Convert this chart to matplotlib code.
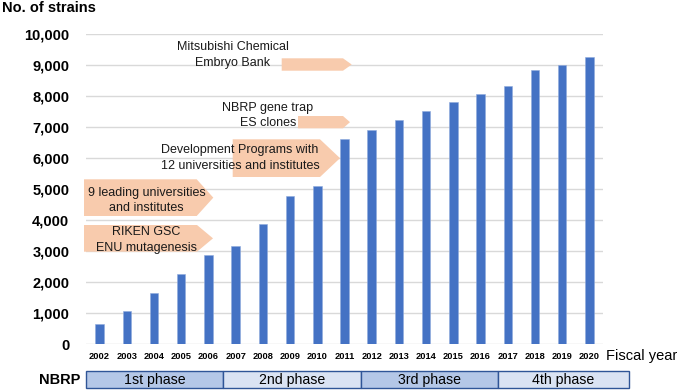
import matplotlib
matplotlib.use("Agg")
import matplotlib.pyplot as plt
from matplotlib.patches import Polygon, Rectangle
from matplotlib.ticker import FuncFormatter

# =========================
# DATA
# =========================
years = [str(y) for y in range(2002, 2021)]
strains = [650, 1050, 1660, 2270, 2880, 3160, 3880, 4770, 5090,
           6610, 6900, 7230, 7530, 7810, 8070, 8330, 8840, 9010, 9270]

phases = ["1st phase", "2nd phase", "3rd phase", "4th phase"]
phase_edges_px = [86, 222.7, 361, 498, 629]
phase_colors = ["#b4c7e7", "#dae3f3", "#b4c7e7", "#dae3f3"]

# arrow boxes: (x0, tip start, tip end, top, bottom) in pixels, and their text lines
arrows = [
    ((281.7, 343, 351.7, 58.3, 70.7), [("Mitsubishi Chemical", 232.5, 47.5), ("Embryo Bank", 232.5, 63.3)]),
    ((298, 343, 350, 116, 128.3), [("NBRP gene trap", 268, 107.7), ("ES clones", 268, 122.7)]),
    ((232.7, 320, 340, 139.3, 177), [("Development Programs with", 239.7, 150), ("12 universities and institutes", 240, 166)]),
    ((84, 196.7, 213.3, 179.3, 216), [("9 leading universities", 146.7, 192.7), ("and institutes", 146.7, 208.3)]),
    ((84, 197, 213, 225, 251.7), [("RIKEN GSC", 146, 232.3), ("ENU mutagenesis", 146, 247.7)]),
]

BAR = "#4472c4"
ARROW = "#f8cbad"
GRID = "#d9d9d9"
W, H = 677, 391

plt.rcParams["font.family"] = ["Liberation Sans", "DejaVu Sans"]

fig = plt.figure(figsize=(W / 100, H / 100), dpi=100)
ax = fig.add_axes([86 / W, (H - 344) / H, 517 / W, 310 / H])

x = range(len(years))
ax.bar(x, strains, width=0.31, color=BAR, edgecolor="#8faadc", linewidth=0.4, zorder=3)
ax.set_xlim(-0.5, len(years) - 0.5)
ax.set_ylim(0, 10000)
ax.set_yticks(range(0, 10001, 1000))
ax.yaxis.set_major_formatter(FuncFormatter(lambda v, p: f"{int(v):,}"))
ax.set_xticks(list(x))
ax.set_xticklabels(years, fontsize=6.7, fontweight="bold")
for lab in ax.get_yticklabels():
    lab.set_fontsize(10.5)
    lab.set_fontweight("bold")
ax.tick_params(axis="y", length=0, pad=12)
ax.tick_params(axis="x", length=0, pad=5.5)
ax.grid(axis="y", color=GRID, linewidth=1, zorder=0)
for s in ax.spines.values():
    s.set_visible(False)

# overlay in pixel coordinates for annotations
ov = fig.add_axes([0, 0, 1, 1], zorder=5)
ov.set_xlim(0, W)
ov.set_ylim(H, 0)
ov.axis("off")
ov.patch.set_alpha(0)

for (x0, xt, x1, y0, y1), lines in arrows:
    ov.add_patch(Polygon([(x0, y0), (xt, y0), (x1, (y0 + y1) / 2), (xt, y1), (x0, y1)],
                         closed=True, facecolor=ARROW, edgecolor="none", zorder=1))
    for txt, tx, ty in lines:
        ov.text(tx, ty, txt, ha="center", va="center", fontsize=9, color="#1a1a1a", zorder=2)

ov.text(2, 8, "No. of strains", ha="left", va="center", fontsize=10.5, fontweight="bold")
ov.text(606.5, 356, "Fiscal year", ha="left", va="center", fontsize=10.5)
ov.text(80, 380, "NBRP", ha="right", va="center", fontsize=10.5, fontweight="bold")

for i, name in enumerate(phases):
    a, b = phase_edges_px[i], phase_edges_px[i + 1]
    ov.add_patch(Rectangle((a, 370.7), b - a, 17.6, facecolor=phase_colors[i],
                           edgecolor="#2f5597", linewidth=1.0))
    ov.text((a + b) / 2, 380, name, ha="center", va="center", fontsize=10.2)

fig.savefig("out.png", dpi=100)
